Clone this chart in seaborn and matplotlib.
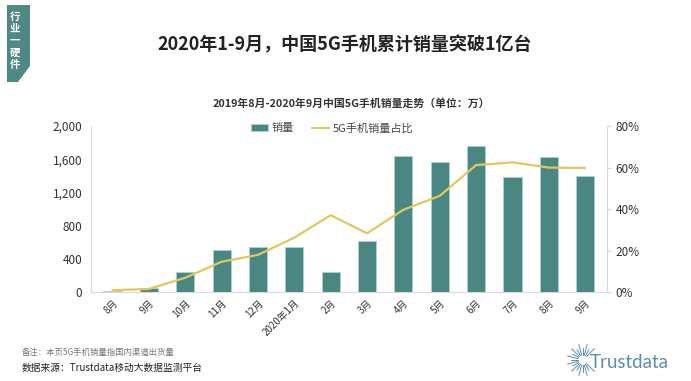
import numpy as np
import pandas as pd
import matplotlib.pyplot as plt
from matplotlib.patches import Polygon
import seaborn as sns

# Data
months = ['8月', '9月', '10月', '11月', '12月', '2020年1月', '2月',
          '3月', '4月', '5月', '6月', '7月', '8月', '9月']
sales = [20, 55, 248, 506, 546, 546, 241, 618, 1638, 1566, 1754, 1389, 1622, 1397]
share = [1.0, 1.6, 7.0, 14.7, 18.0, 26.3, 37.1, 28.4, 39.7, 46.4, 61.2, 62.5, 60.0, 59.8]

BAR_COLOR = '#4a8783'
LINE_COLOR = '#e3c75e'
LOGO_COLOR = '#5b8db3'

sns.set_style('white')
plt.rcParams['font.family'] = ['Noto Sans CJK SC', 'DejaVu Sans']
plt.rcParams['axes.unicode_minus'] = False

df = pd.DataFrame({'pos': range(len(months)), 'month': months,
                   'sales': sales, 'share': share})

W, H = 691, 381
fig = plt.figure(figsize=(W / 100, H / 100), dpi=100)
ax = fig.add_axes([90.7 / W, 1 - 292.3 / H, (607 - 90.7) / W, (292.3 - 126) / H])

sns.barplot(data=df, x='pos', y='sales', color=BAR_COLOR, width=0.5,
            edgecolor='#a9d3cf', linewidth=0.6, saturation=1, ax=ax, label='销量')
ax.set_ylim(0, 2000)
ax.set_yticks([0, 400, 800, 1200, 1600, 2000])
ax.set_yticklabels(['0', '400', '800', '1,200', '1,600', '2,000'])
ax.set_xticks(range(len(months)))
ax.set_xticklabels(months, rotation=45, ha='right', rotation_mode='anchor')
ax.set_xlim(-0.6, len(months) - 0.4)
ax.set_xlabel('')
ax.set_ylabel('')
ax.tick_params(axis='y', labelsize=8.5, colors='#333333', pad=6, length=0)
ax.tick_params(axis='x', labelsize=7, colors='#333333', pad=4, length=0)
for side in ['top', 'right']:
    ax.spines[side].set_visible(False)
for side in ['left', 'bottom']:
    ax.spines[side].set_color('#d9d9d9')
    ax.spines[side].set_linewidth(0.8)

ax2 = ax.twinx()
sns.lineplot(data=df, x='pos', y='share', color=LINE_COLOR, linewidth=1.6,
             ax=ax2, label='5G手机销量占比')
ax2.set_ylim(0, 80)
ax2.set_yticks([0, 20, 40, 60, 80])
ax2.set_yticklabels(['0%', '20%', '40%', '60%', '80%'])
ax2.set_ylabel('')
ax2.tick_params(axis='y', labelsize=8.5, colors='#333333', pad=3, length=3, color='#d9d9d9')
for side in ['top', 'left', 'bottom']:
    ax2.spines[side].set_visible(False)
ax2.spines['right'].set_color('#d9d9d9')
ax2.spines['right'].set_linewidth(0.8)

h1, l1 = ax.get_legend_handles_labels()
h2, l2 = ax2.get_legend_handles_labels()
for a in (ax, ax2):
    if a.get_legend() is not None:
        a.get_legend().remove()
fig.legend(h1 + h2, l1 + l2, loc='center', bbox_to_anchor=(332 / W, 1 - 128 / H),
           ncol=2, frameon=False, fontsize=8, handlelength=1.6, handleheight=0.6,
           columnspacing=1.6, handletextpad=0.3, labelcolor='#444444')

# Titles
fig.text(345 / W, 1 - 45 / H, '2020年1-9月，中国5G手机累计销量突破1亿台',
         ha='center', va='center', fontsize=13, fontweight='bold', color='#222222')
fig.text(351 / W, 1 - 103 / H, '2019年8月-2020年9月中国5G手机销量走势（单位：万）',
         ha='center', va='center', fontsize=7.8, fontweight='bold', color='#333333')

# Left tab
tab = Polygon([(7 / W, 1 - 5 / H), (30 / W, 1 - 5 / H), (30 / W, 1 - 66 / H),
               (18 / W, 1 - 82 / H), (7 / W, 1 - 82 / H)],
              closed=True, transform=fig.transFigure, facecolor='#4f8985', edgecolor='none')
fig.patches.append(tab)
for i, ch in enumerate('行业一硬件'):
    fig.text(15 / W, 1 - (17 + i * 12) / H, ch, ha='center', va='center',
             fontsize=7.5, color='white', fontweight='bold')

# Footer
fig.text(22 / W, 1 - 352 / H, '备注：本页5G手机销量指国内渠道出货量',
         ha='left', va='center', fontsize=6, color='#777777')
fig.text(22 / W, 1 - 368 / H, '数据来源：Trustdata移动大数据监测平台',
         ha='left', va='center', fontsize=7, color='#222222')

# Trustdata logo: starburst opening to the right, then the word
cx, cy = 583, 360
for k, ang in enumerate(np.linspace(np.radians(45), np.radians(315), 19)):
    r0 = 5
    r1 = 16 if k % 2 == 0 else 12
    fig.add_artist(plt.Line2D([(cx + r0 * np.cos(ang)) / W, (cx + r1 * np.cos(ang)) / W],
                              [1 - (cy - r0 * np.sin(ang)) / H, 1 - (cy - r1 * np.sin(ang)) / H],
                              transform=fig.transFigure, color=LOGO_COLOR, linewidth=0.7))
fig.text(590 / W, 1 - 362 / H, 'Trustdata', ha='left', va='center',
         fontsize=13.5, color=LOGO_COLOR, family='Lato')

fig.savefig('out.png', dpi=100)
